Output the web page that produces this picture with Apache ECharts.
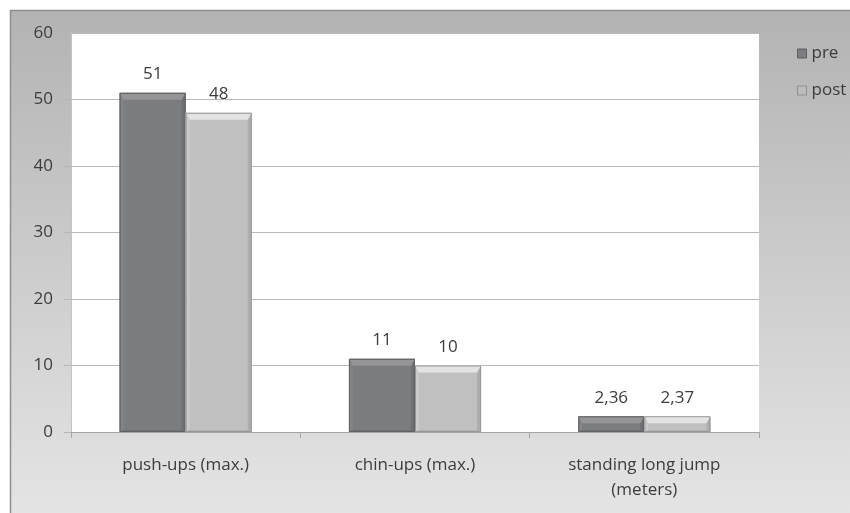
<!DOCTYPE html>
<html>
<head>
<meta charset="utf-8">
<script src="https://cdn.jsdelivr.net/npm/echarts@6/dist/echarts.min.js"></script>
<style>
  html, body { margin: 0; padding: 0; background: #ffffff; }
  #chart { width: 850px; height: 513px; }
</style>
</head>
<body>
<div id="chart"></div>
<script>
// Fitness test results before and after the programme
const categories = ['push-ups (max.)', 'chin-ups (max.)', 'standing long jump\n(meters)'];
const preValues = [51, 11, 2.36];
const postValues = [48, 10, 2.37];
const yTicks = { min: 0, max: 60, interval: 10 };

const FONT = '"Open Sans", Lato, sans-serif';
const TEXT = '#3c3c3c';
const FS = 17;

// Bevelled bar palettes: face, top, left, right, bottom, outline
const palettes = [
  { face: '#7b7c7e', top: '#959597', left: '#838486', right: '#6f7072', bottom: '#707173', line: '#5f6062' },
  { face: '#c0c0c1', top: '#e3e3e4', left: '#cacacb', right: '#adadae', bottom: '#b1b1b2', line: '#98989a' }
];

function fmt(v) {
  return String(v).replace('.', ',');
}

function bevelBar(params, api) {
  const idx = api.value(0);
  const val = api.value(1);
  const base = api.coord([idx, 0]);
  const top = api.coord([idx, val]);
  const band = api.size([1, 0])[0];
  const w = band * 0.288;
  const x0 = params.seriesIndex === 0 ? base[0] - w : base[0];
  const x1 = x0 + w;
  const y0 = top[1];
  const y1 = base[1];
  const p = palettes[params.seriesIndex];
  const b = Math.min(7, (y1 - y0) / 2);
  const s = 4;
  return {
    type: 'group',
    children: [
      { type: 'rect', shape: { x: x0, y: y0, width: w, height: y1 - y0 }, style: { fill: p.face } },
      { type: 'polygon', shape: { points: [[x0, y0], [x0 + s, y0 + b], [x0 + s, y1 - 2], [x0, y1]] }, style: { fill: p.left } },
      { type: 'polygon', shape: { points: [[x1, y0], [x1 - s, y0 + b], [x1 - s, y1 - 2], [x1, y1]] }, style: { fill: p.right } },
      { type: 'polygon', shape: { points: [[x0, y0], [x1, y0], [x1 - s, y0 + b], [x0 + s, y0 + b]] }, style: { fill: p.top } },
      { type: 'polygon', shape: { points: [[x0, y1], [x0 + s, y1 - 2], [x1 - s, y1 - 2], [x1, y1]] }, style: { fill: p.bottom } },
      { type: 'rect', shape: { x: x0 + 0.5, y: y0 + 0.5, width: w - 1, height: y1 - y0 - 1 }, style: { fill: null, stroke: p.line, lineWidth: 1 } },
      {
        type: 'text',
        style: {
          text: fmt(val), x: (x0 + x1) / 2, y: y0 - 10,
          align: 'center', verticalAlign: 'bottom',
          fill: TEXT, font: FS + 'px ' + FONT
        }
      }
    ]
  };
}

const chart = echarts.init(document.getElementById('chart'), null, { renderer: 'canvas' });

chart.setOption({
  animation: false,
  backgroundColor: '#ffffff',
  textStyle: { fontFamily: FONT },
  graphic: [
    {
      type: 'rect', z: -10, silent: true,
      shape: { x: 10.5, y: 10.5, width: 860, height: 520 },
      style: {
        fill: new echarts.graphic.LinearGradient(0, 0, 0, 1, [
          { offset: 0, color: '#b3b3b3' },
          { offset: 1, color: '#e6e6e6' }
        ]),
        stroke: '#8e8e8e', lineWidth: 1.5
      }
    }
  ],
  grid: {
    left: 71, right: 91, top: 33, bottom: 81,
    show: true, backgroundColor: '#ffffff', borderWidth: 0
  },
  legend: {
    orient: 'vertical',
    left: 792, top: 40,
    itemWidth: 9, itemHeight: 9, itemGap: 20,
    icon: 'rect',
    textStyle: { color: TEXT, fontSize: FS, fontFamily: FONT },
    data: [
      { name: 'pre', itemStyle: { color: '#7c7d7f', borderColor: '#5e5f61', borderWidth: 1 } },
      { name: 'post', itemStyle: { color: '#bcbcbd', borderColor: '#8f8f90', borderWidth: 1 } }
    ]
  },
  xAxis: {
    type: 'category',
    data: categories,
    boundaryGap: true,
    axisLine: { lineStyle: { color: '#a6a6a6', width: 1 } },
    axisTick: { show: true, length: 6, lineStyle: { color: '#a6a6a6' } },
    axisLabel: { color: TEXT, fontSize: FS, fontFamily: FONT, margin: 21, lineHeight: 25 },
    splitLine: { show: false }
  },
  yAxis: {
    type: 'value',
    min: yTicks.min, max: yTicks.max, interval: yTicks.interval,
    axisLine: { show: true, lineStyle: { color: '#c4c4c4' } },
    axisTick: { show: true, length: 7, lineStyle: { color: '#b5b5b5' } },
    axisLabel: { color: TEXT, fontSize: FS, fontFamily: FONT, margin: 18 },
    splitLine: { lineStyle: { color: '#b9b9b9', width: 1 } }
  },
  series: [
    {
      name: 'pre', type: 'custom', renderItem: bevelBar,
      itemStyle: { color: '#7c7d7f' },
      encode: { x: 0, y: 1 },
      data: preValues.map((v, i) => [i, v])
    },
    {
      name: 'post', type: 'custom', renderItem: bevelBar,
      itemStyle: { color: '#bcbcbd' },
      encode: { x: 0, y: 1 },
      data: postValues.map((v, i) => [i, v])
    }
  ]
});
</script>
</body>
</html>
